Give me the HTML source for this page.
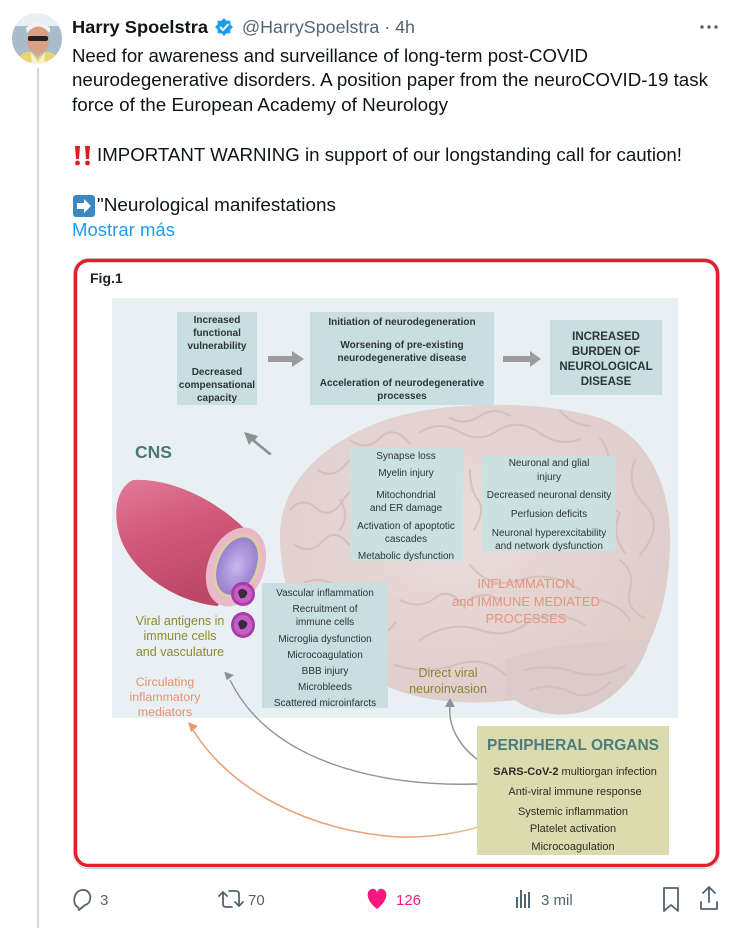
<!DOCTYPE html>
<html><head><meta charset="utf-8"><style>
html,body{margin:0;padding:0;background:#fff;}
svg{display:block;}
text{font-family:"Liberation Sans",Arial,sans-serif;}
</style></head><body>
<svg width="742" height="928" viewBox="0 0 742 928" xmlns="http://www.w3.org/2000/svg">
<defs>
<clipPath id="av"><circle cx="37" cy="38.5" r="25"/></clipPath>
<clipPath id="brainclip"><path d="M 280,540 C 278,490 315,445 385,420 C 445,400 540,400 600,418 C 650,436 672,490 670,545 C 669,590 660,620 648,645 C 640,672 615,700 585,711 C 560,718 535,714 515,700 C 490,703 455,704 425,698 C 385,690 335,665 308,632 C 290,610 281,575 280,540 Z"/></clipPath>
<linearGradient id="tube" x1="0" y1="0" x2="0.35" y2="1">
<stop offset="0" stop-color="#e07c98"/><stop offset="0.45" stop-color="#d35a7b"/><stop offset="1" stop-color="#bc4767"/></linearGradient>
<linearGradient id="org" x1="0" y1="0" x2="1" y2="0">
<stop offset="0" stop-color="#eaa078"/><stop offset="0.75" stop-color="#eaa67c"/><stop offset="1" stop-color="#f2e59a"/></linearGradient>
<radialGradient id="lumen" cx="0.5" cy="0.5" r="0.5"><stop offset="0" stop-color="#c8b8ec"/><stop offset="1" stop-color="#9a7fce"/></radialGradient>
<radialGradient id="brainshade" cx="0.45" cy="0.4" r="0.6"><stop offset="0" stop-color="#e9dcda"/><stop offset="1" stop-color="#dfcdca"/></radialGradient>
</defs>
<rect width="742" height="928" fill="#fff"/>

<!-- avatar -->
<g clip-path="url(#av)">
<rect x="10" y="12" width="55" height="55" fill="#a9bccb"/>
<rect x="10" y="12" width="55" height="14" fill="#e9eef2"/>
<ellipse cx="38" cy="40" rx="11" ry="14" fill="#d9a084"/>
<path d="M27 33 Q38 20 50 33 L50 28 Q38 16 26 28Z" fill="#f2f2f2"/>
<rect x="28" y="36" width="20" height="5" rx="2" fill="#222"/>
<path d="M14 64 Q22 50 31 52 L38 58 L45 52 Q54 50 62 64Z" fill="#e9d670"/>
<path d="M31 52 L38 62 L45 52 L44 66 L32 66Z" fill="#f6f0d0"/>
</g>
<!-- thread line -->
<rect x="37" y="68" width="2" height="860" fill="#cfd9de"/>

<!-- header -->
<text x="72" y="33" font-size="17.5" font-weight="bold" fill="#0f1419" textLength="136" lengthAdjust="spacingAndGlyphs">Harry Spoelstra</text>
<g transform="translate(224,27)">
<path d="M0,-9 L2.6,-6.3 L6.4,-6.4 L6.3,-2.6 L9,0 L6.3,2.6 L6.4,6.4 L2.6,6.3 L0,9 L-2.6,6.3 L-6.4,6.4 L-6.3,2.6 L-9,0 L-6.3,-2.6 L-6.4,-6.4 L-2.6,-6.3Z" fill="#1d9bf0"/>
<path d="M-4,0 L-1,3 L4.5,-3" stroke="#fff" stroke-width="2" fill="none"/>
</g>
<text x="242" y="33" font-size="17.5" fill="#536471" textLength="173" lengthAdjust="spacingAndGlyphs">@HarrySpoelstra · 4h</text>
<circle cx="702" cy="27" r="1.7" fill="#536471"/><circle cx="709" cy="27" r="1.7" fill="#536471"/><circle cx="716" cy="27" r="1.7" fill="#536471"/>

<!-- tweet text -->
<g font-size="18.5" fill="#0f1419">
<text x="72" y="62" textLength="516" lengthAdjust="spacingAndGlyphs">Need for awareness and surveillance of long-term post-COVID</text>
<text x="72" y="86" textLength="636" lengthAdjust="spacingAndGlyphs">neurodegenerative disorders. A position paper from the neuroCOVID-19 task</text>
<text x="72" y="111" textLength="376" lengthAdjust="spacingAndGlyphs">force of the European Academy of Neurology</text>
<text x="97" y="161" textLength="585" lengthAdjust="spacingAndGlyphs">IMPORTANT WARNING in support of our longstanding call for caution!</text>
<text x="97" y="211" textLength="239" lengthAdjust="spacingAndGlyphs">"Neurological manifestations</text>
</g>
<text x="72" y="236" font-size="18.5" fill="#1d9bf0" textLength="103" lengthAdjust="spacingAndGlyphs">Mostrar más</text>
<!-- ‼ -->
<path d="M75 146 h5 l-1 13 h-3z" fill="#d81f26"/><circle cx="77.5" cy="163" r="2.4" fill="#d81f26"/>
<path d="M85 146 h5 l-1 13 h-3z" fill="#d81f26"/><circle cx="87.5" cy="163" r="2.4" fill="#d81f26"/>
<!-- ➡ -->
<rect x="73" y="195" width="22" height="22" rx="3" fill="#3b88c3"/>
<path d="M77 203 h7 v-4 l7 7 l-7 7 v-4 h-7z" fill="#fff"/>

<!-- card -->
<rect x="73.5" y="258.5" width="646" height="610" rx="15" fill="#fff" stroke="#cfd9de" stroke-width="1"/>
<rect x="75.5" y="260.5" width="642" height="605" rx="13" fill="#fff" stroke="#e1202b" stroke-width="3.5"/>
<text x="90" y="283" font-size="14" font-weight="bold" fill="#222">Fig.1</text>

<!-- diagram bg -->
<rect x="112" y="298" width="566" height="420" fill="#e9f0f3"/>

<!-- brain -->
<path d="M 280,540 C 278,490 315,445 385,420 C 445,400 540,400 600,418 C 650,436 672,490 670,545 C 669,590 660,620 648,645 C 640,672 615,700 585,711 C 560,718 535,714 515,700 C 490,703 455,704 425,698 C 385,690 335,665 308,632 C 290,610 281,575 280,540 Z" fill="url(#brainshade)"/>
<g clip-path="url(#brainclip)">
<path d="M505,660 C 540,645 610,640 650,640 L 650,720 L 505,720 Z" fill="#dbcbc9"/>
<g fill="none" stroke="#d2bebb" stroke-width="2" opacity="0.85" stroke-linecap="round">
<path d="M290,510 q12,-14 26,-2 t26,-6 q10,-18 28,-14"/>
<path d="M295,545 q15,10 28,-4 t26,4 q12,-10 24,2"/>
<path d="M300,585 q20,-12 40,4 t36,-6"/>
<path d="M318,470 q14,10 28,-6 t28,4 q14,-16 34,-6"/>
<path d="M350,440 q16,12 30,-2 t30,6"/>
<path d="M420,432 q20,-12 40,0 t40,-3 q20,-10 40,4 t40,6"/>
<path d="M450,418 q15,8 30,-2 t30,0"/>
<path d="M600,438 q15,20 5,40 t15,35 q-10,20 5,40"/>
<path d="M635,460 q-10,25 10,45 t-5,50"/>
<path d="M620,560 q15,12 10,30 t14,28"/>
<path d="M330,620 q20,-10 36,6 t30,-4"/>
<path d="M400,600 q20,10 35,-2 t30,10"/>
<path d="M420,640 q30,-20 60,-10 t50,-10 q30,-10 55,5"/>
<path d="M395,665 q30,10 60,0 t50,10"/>
<path d="M470,565 q20,25 50,15 t60,10"/>
<path d="M470,600 q15,-10 30,0"/>
<path d="M530,690 q20,-8 40,2 t40,-10"/>
<path d="M525,670 q25,-6 50,2 t50,-6"/>
<path d="M600,600 q20,5 30,20"/>
<path d="M470,470 q0,20 8,30 t-4,30"/>
<path d="M340,500 q10,15 0,30"/>
<path d="M560,410 q10,14 30,16"/>
</g>
</g>

<!-- top row boxes -->
<rect x="177" y="312" width="80" height="93" fill="#c8dee0"/>
<g font-size="10" font-weight="bold" fill="#2c3535" text-anchor="middle">
<text x="217" y="323">Increased</text>
<text x="217" y="336">functional</text>
<text x="217" y="349">vulnerability</text>
<text x="217" y="375">Decreased</text>
<text x="217" y="388">compensational</text>
<text x="217" y="401">capacity</text>
</g>
<path d="M268,356 h24 v-5 l12,8 l-12,8 v-5 h-24z" fill="#9a9c9d"/>
<rect x="310" y="312" width="184" height="93" fill="#c8dee0"/>
<g font-size="10" font-weight="bold" fill="#2c3535" text-anchor="middle">
<text x="402" y="325">Initiation of neurodegeneration</text>
<text x="402" y="348">Worsening of pre-existing</text>
<text x="402" y="361">neurodegenerative disease</text>
<text x="402" y="386">Acceleration of neurodegenerative</text>
<text x="402" y="399">processes</text>
</g>
<path d="M503,356 h27 v-5 l11,8 l-11,8 v-5 h-27z" fill="#9a9c9d"/>
<rect x="550" y="320" width="112" height="75" fill="#c8dee0"/>
<g font-size="11.5" font-weight="bold" fill="#2c3535" text-anchor="middle">
<text x="606" y="340">INCREASED</text>
<text x="606" y="355">BURDEN OF</text>
<text x="606" y="370">NEUROLOGICAL</text>
<text x="606" y="385">DISEASE</text>
</g>
<!-- diagonal arrow -->
<path d="M272,454 l-17,-14 l3,-4 l-14,-4 l5,13 l3,-4 l17,14z" fill="#8e9091"/>

<!-- CNS -->
<text x="135" y="458" font-size="17.5" font-weight="bold" fill="#4a7775">CNS</text>

<!-- vessel -->
<path d="M133,480 C 172,478 215,500 244,528 L 218,606 C 178,602 142,578 126,550 C 112,526 112,490 133,480 Z" fill="url(#tube)"/>
<ellipse cx="236" cy="567" rx="28" ry="41" transform="rotate(22 236 567)" fill="#eab8c8"/>
<ellipse cx="237" cy="566" rx="22" ry="33" transform="rotate(22 237 566)" fill="#d9cfa2"/>
<ellipse cx="237" cy="566" rx="19" ry="30" transform="rotate(22 237 566)" fill="url(#lumen)"/>
<ellipse cx="243" cy="594" rx="12" ry="12" fill="#a43ea8"/>
<ellipse cx="243" cy="594" rx="9" ry="9" fill="#c65dc6"/>
<path d="M238,592 q3,-5 7,-2 q4,2 1,6 q-2,3 -6,2 z" fill="#3a2a3a"/>
<ellipse cx="243" cy="625" rx="12" ry="13" fill="#a43ea8"/>
<ellipse cx="243" cy="625" rx="9" ry="10" fill="#c65dc6"/>
<path d="M238,623 q3,-5 7,-2 q4,2 1,6 q-2,3 -6,2 z" fill="#3a2a3a"/>

<!-- middle boxes -->
<rect x="350" y="448" width="113" height="113" fill="#cbe0e1"/>
<g font-size="10" fill="#2c3535" text-anchor="middle">
<text x="406" y="459">Synapse loss</text>
<text x="406" y="476">Myelin injury</text>
<text x="406" y="498">Mitochondrial</text>
<text x="406" y="511">and ER damage</text>
<text x="406" y="529">Activation of apoptotic</text>
<text x="406" y="542">cascades</text>
<text x="406" y="559">Metabolic dysfunction</text>
</g>
<rect x="482" y="456" width="134" height="95" fill="#cbe0e1"/>
<g font-size="10" fill="#2c3535" text-anchor="middle">
<text x="549" y="466">Neuronal and glial</text>
<text x="549" y="480">injury</text>
<text x="549" y="498">Decreased neuronal density</text>
<text x="549" y="517">Perfusion deficits</text>
<text x="549" y="536">Neuronal hyperexcitability</text>
<text x="549" y="549">and network dysfunction</text>
</g>
<g font-size="13" fill="#e8937d" text-anchor="middle">
<text x="526" y="588">INFLAMMATION</text>
<text x="526" y="606">and IMMUNE MEDIATED</text>
<text x="526" y="623">PROCESSES</text>
</g>

<rect x="262" y="583" width="126" height="125" fill="#c8dee0"/>
<g font-size="10" fill="#2c3535" text-anchor="middle">
<text x="325" y="596">Vascular inflammation</text>
<text x="325" y="612">Recruitment of</text>
<text x="325" y="625">immune cells</text>
<text x="325" y="642">Microglia dysfunction</text>
<text x="325" y="658">Microcoagulation</text>
<text x="325" y="674">BBB injury</text>
<text x="325" y="690">Microbleeds</text>
<text x="325" y="706">Scattered microinfarcts</text>
</g>

<g font-size="12.5" fill="#8c8a2c" text-anchor="middle">
<text x="180" y="625">Viral antigens in</text>
<text x="180" y="640">immune cells</text>
<text x="180" y="656">and vasculature</text>
</g>
<g font-size="12.4" fill="#e8916c" text-anchor="middle">
<text x="165" y="686">Circulating</text>
<text x="165" y="701">inflammatory</text>
<text x="165" y="716">mediators</text>
</g>
<g font-size="12.5" fill="#8d8430" text-anchor="middle">
<text x="448" y="677">Direct viral</text>
<text x="448" y="693">neuroinvasion</text>
</g>

<!-- connectors -->
<path d="M477,784 C 380,787 270,762 230,680" fill="none" stroke="#8c9196" stroke-width="1.4"/>
<path d="M225,671 l9,5 l-8,4 z" fill="#8c9196" transform="rotate(-10 228 676)"/>
<path d="M478,760 C 458,745 448,725 450,706" fill="none" stroke="#8c9196" stroke-width="1.4"/>
<path d="M450,698 l5,9 h-10 z" fill="#8c9196"/>
<path d="M520,812 C 480,830 440,838 400,837 C 310,832 230,790 193,730" fill="none" stroke="url(#org)" stroke-width="1.6"/>
<path d="M188,722 l10,4 l-7,6 z" fill="#e9996f"/>

<!-- peripheral -->
<rect x="477" y="726" width="192" height="129" fill="#dbdbb0"/>
<text x="573" y="750" font-size="15.5" font-weight="bold" fill="#4e7c7a" text-anchor="middle">PERIPHERAL ORGANS</text>
<g font-size="11" fill="#2c2c24" text-anchor="middle">
<text x="575" y="775"><tspan font-weight="bold">SARS-CoV-2</tspan> multiorgan infection</text>
<text x="575" y="795">Anti-viral immune response</text>
<text x="573" y="815">Systemic inflammation</text>
<text x="573" y="832">Platelet activation</text>
<text x="573" y="850">Microcoagulation</text>
</g>

<!-- footer -->
<g fill="none" stroke="#536471" stroke-width="1.8" stroke-linecap="round" stroke-linejoin="round">
<path d="M78,907 C 72,905 73,891 82,890 C 92,889 93,903 85,905 L79,910 Z"/>
<path d="M219,896 l4,-4 l4,4 M223,892 v12 q0,3 3,3 h6"/>
<path d="M229,891 h7 q3,0 3,3 v12 M235,902 l4,4 l4,-4"/>
<path d="M664,888 h14 v23 l-7,-6 l-7,6 z"/>
<path d="M709,887 v15 M703,893 l6,-6 l6,6 M701,902 v7 h16 v-7"/>
</g>
<text x="100" y="905" font-size="15" fill="#536471">3</text>
<text x="248" y="905" font-size="15" fill="#536471">70</text>
<path d="M377,909 C 365,900 366,890 372,889 C 375,888 377,891 377,893 C 377,891 379,888 382,889 C 388,890 389,900 377,909 Z" fill="#f91880"/>
<text x="396" y="905" font-size="15" fill="#f91880">126</text>
<g fill="#536471">
<rect x="516" y="897" width="2" height="11"/>
<rect x="520" y="890" width="2" height="18"/>
<rect x="524" y="894" width="2" height="14"/>
<rect x="528" y="892" width="2" height="16"/>
</g>
<text x="541" y="905" font-size="15" fill="#536471">3 mil</text>
</svg>
</body></html>
